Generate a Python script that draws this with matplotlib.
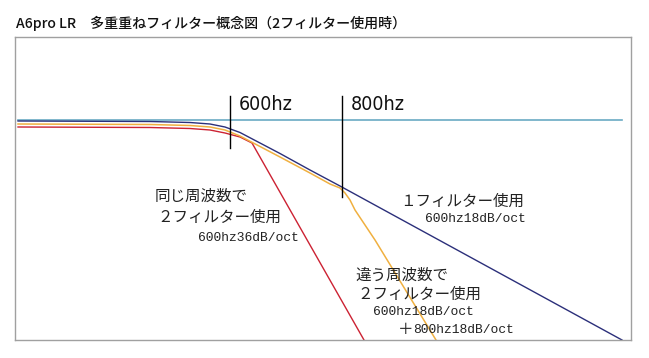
import matplotlib.pyplot as plt

plt.rcParams['font.family'] = ['Noto Sans CJK JP', 'DejaVu Sans']

# curves (x position, level in picture units; y grows downward)
ref_x = [18, 622]
ref_y = [119.5, 119.5]

one_x = [18, 150, 190, 210, 225, 240, 260, 280, 310, 340, 622]
one_y = [121, 121.5, 122.5, 124, 127, 132.5, 143, 153.5, 170, 186, 340]

diff_x = [18, 150, 190, 210, 225, 240, 260, 280, 310, 330, 340, 345, 350, 355, 365, 375, 436]
diff_y = [124, 124.5, 125.5, 127, 130, 136, 146.5, 157, 173, 184, 188, 193, 200, 210, 225, 240, 340]

same_x = [18, 150, 190, 210, 225, 240, 252, 364]
same_y = [127, 127.5, 128.5, 130, 133, 137, 143, 340]

# cutoff markers: x, top, bottom, label
cut_x = [230, 342]
cut_top = [96, 96]
cut_bottom = [148, 197]
cut_labels = ['600hz', '800hz']

fig = plt.figure(figsize=(6.49, 3.58), dpi=100)
left, right, top, bottom = 15, 631, 37, 340
ax = fig.add_axes([left / 649, 1 - bottom / 358, (right - left) / 649, (bottom - top) / 358])
ax.set_xlim(left, right)
ax.set_ylim(bottom, top)
ax.set_xticks([])
ax.set_yticks([])
for s in ax.spines.values():
    s.set_color('#a0a0a0')
    s.set_linewidth(1)

ax.plot(ref_x, ref_y, color='#6aaac4', lw=1.2)
ax.plot(same_x, same_y, color='#cc2233', lw=1)
ax.plot(diff_x, diff_y, color='#f0b040', lw=1.1)
ax.plot(one_x, one_y, color='#2b2f7a', lw=1)

for x, t, b, lab in zip(cut_x, cut_top, cut_bottom, cut_labels):
    ax.plot([x, x], [t, b], color='black', lw=1, clip_on=False)
    ax.text(x + 9, 104, lab, fontsize=14, family=['DejaVu Sans'], fontstretch='condensed',
            color='#111111', va='center', ha='left')

jp = dict(fontsize=11.2, color='#222222', va='center', ha='left')
mono = dict(fontsize=9.4, color='#222222', va='center', ha='left',
            family=['Liberation Mono', 'DejaVu Sans Mono'])

ax.text(155, 196, '同じ周波数で', **jp)
ax.text(157, 217, '２フィルター使用', **jp)
ax.text(198, 238, '600hz36dB/oct', **mono)

ax.text(400, 201, '１フィルター使用', **jp)
ax.text(425, 219, '600hz18dB/oct', **mono)

ax.text(355, 275, '違う周波数で', **jp)
ax.text(357, 294, '２フィルター使用', **jp)
ax.text(373, 312, '600hz18dB/oct', **mono)
ax.text(398, 330, '＋', **jp)
ax.text(413, 330, '800hz18dB/oct', **mono)

fig.text(16 / 649, 1 - 23 / 358, 'A6pro LR\u3000多重重ねフィルター概念図（2フィルター使用時）',
         fontsize=10.1, fontweight='medium', color='#111111', va='center', ha='left')

fig.savefig('out.png', dpi=100)
